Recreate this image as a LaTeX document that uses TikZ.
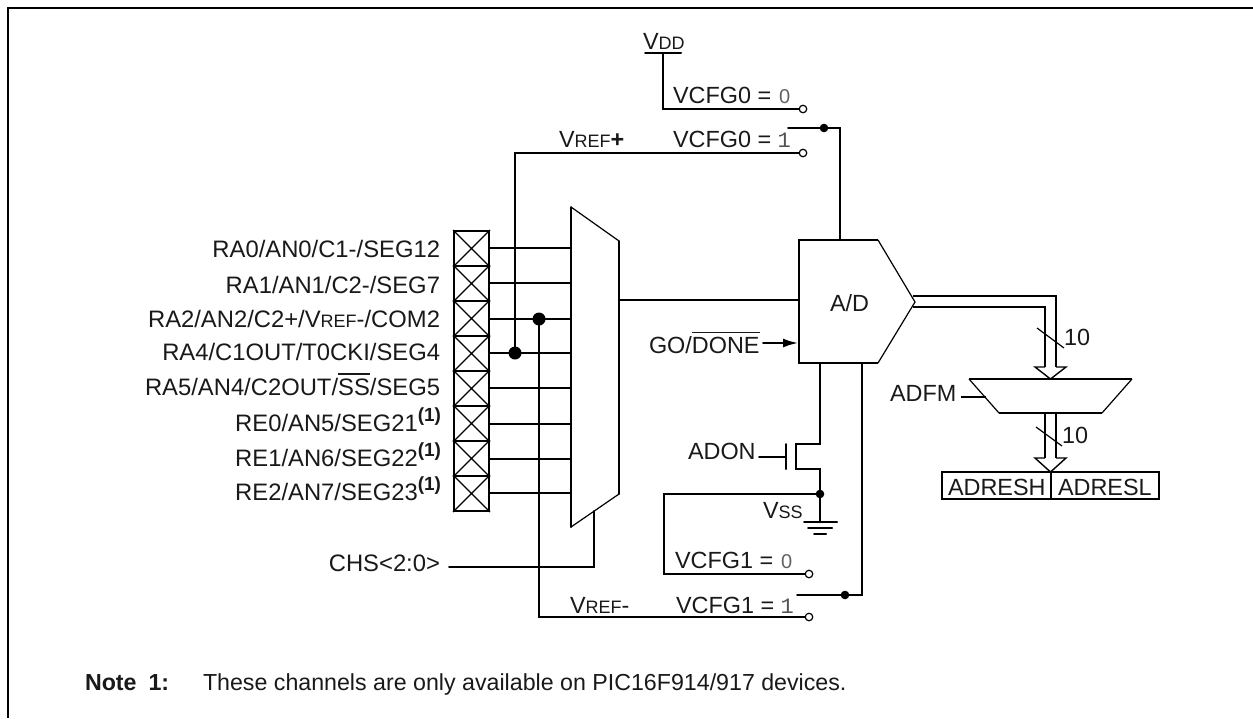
\documentclass[tikz,border=0pt]{standalone}
\usepackage{fontspec}
\setmainfont{Liberation Sans}
\newfontfamily\digitfont{Liberation Mono}
\usetikzlibrary{arrows.meta,calc}
\newcommand\smc[1]{{\fontsize{18}{18}\selectfont #1}}
\newcommand\ovl[1]{\leavevmode\vbox{\hrule height 1.5pt\kern 3.4pt\hbox{#1}}}
\newcommand\supone{\raisebox{9.5pt}{\fontsize{19}{19}\selectfont\bfseries (1)}}
\newcommand\dg[1]{{\digitfont\color{black!68}\fontsize{22}{22}\selectfont #1}}
\newcommand\dgz{{\color{black!62}\fontsize{20}{20}\selectfont\hspace{1.5pt}0}}
\tikzset{
  wire/.style={line width=2pt,line cap=round},
  thinline/.style={line width=1.2pt},
  lab/.style={inner sep=0,outer sep=0,font=\fontsize{23.4}{24}\selectfont,text=black!90},
  labw/.style={lab,anchor=base west},
  labe/.style={lab,anchor=base east},
  padlab/.style={labe,font=\fontsize{23.8}{24}\selectfont},
  dot/.style={circle,fill=black,inner sep=0,minimum size=8.6pt},
  bigdot/.style={circle,fill=black,inner sep=0,minimum size=13pt},
  contact/.style={circle,draw=black,fill=white,line width=1.2pt,inner sep=0,minimum size=7.5pt},
  pad/.style={rectangle,draw=black,line width=2pt,inner sep=0,minimum width=35pt,minimum height=35pt},
  busline/.style={line width=2pt,line join=miter}
}
\begin{document}
\begin{tikzpicture}[x=1pt,y=-1pt]
\useasboundingbox (0,0) rectangle (1253,718);
\coordinate (frameTR) at (1253,8);
\coordinate (frameTL) at (8,8);
\coordinate (frameBL) at (8,718);
\draw[line width=2pt] (frameTR) -- (frameTL) -- (frameBL);

% pads
\foreach \i/\yy/\pin in {1/248.5/248,2/283.5/283,3/318.5/319,4/353.5/353,5/388.5/388,6/423.5/424,7/458.5/459,8/493.5/493}{
  \node[pad] (p\i) at (471.5,\yy) {};
  \draw[thinline] (p\i.north west) -- (p\i.south east) (p\i.north east) -- (p\i.south west);
  \coordinate (m\i) at (571,\pin);
  \draw[wire] (p\i.east |- m\i) -- (m\i);
}
% pad labels
\node[padlab] (t1) at (440,257) {RA0/AN0/C1-/SEG12};
\node[padlab] (t2) at (440,293) {RA1/AN1/C2-/SEG7};
\node[padlab] (t3) at (440,327) {RA2/AN2/C2+/V\smc{REF}-/COM2};
\node[padlab] (t4) at (440,360) {RA4/C1OUT/T0CKI/SEG4};
\node[padlab] (t5) at (440,395) {RA5/AN4/C2OUT/\ovl{SS}/SEG5};
\node[padlab] (t6) at (441,431) {RE0/AN5/SEG21\supone};
\node[padlab] (t7) at (441,466) {RE1/AN6/SEG22\supone};
\node[padlab] (t8) at (441,500) {RE2/AN7/SEG23\supone};

% analog mux
\coordinate (muxTL) at (571,207);
\coordinate (muxTR) at (619,241);
\coordinate (muxBR) at (619,494);
\coordinate (muxBL) at (571,527);
\coordinate (muxOut) at (619,300);
\coordinate (muxSel) at (594,511);
\draw[wire] (muxTL) -- (muxBL);
\draw[wire] (muxTR) -- (muxBR);
\draw[thinline] (muxTL) -- (muxTR) (muxBL) -- (muxBR);

% A/D
\coordinate (adTL) at (799,240);
\coordinate (adTR) at (878,240);
\coordinate (adTip) at (915,302);
\coordinate (adBR) at (878,363);
\coordinate (adBL) at (799,363);
\draw[wire,line cap=butt] (adTR) -- (adTL) -- (adBL) -- (adBR);
\draw[thinline] (adTR) -- (adTip) -- (adBR);
\node[labw] (adtext) at (830,311) {A/D};
\draw[wire] (muxOut) -- (muxOut -| adTL);
\node[labw] (go) at (649,353) {GO/\ovl{DONE}};
\coordinate (goS) at (763,343);
\coordinate (goE) at (798,343);
\draw[wire,-{Latex[length=15pt,width=9pt]}] (goS) -- (goE);

% Vref+ selection
\node[labw] (vdd) at (643,49) {V\smc{DD}};
\coordinate (vddL) at (645,53);
\coordinate (vddR) at (681,53);
\coordinate (vddM) at (663,53);
\coordinate (cfgA) at (663,109);
\node[contact] (c00) at (803,109) {};
\node[contact] (c01) at (803,153) {};
\draw[wire] (vddL) -- (vddR);
\draw[wire] (vddM) -- (cfgA) -- (c00.west);
\node[labw] (t00) at (673,103) {VCFG0 = \dgz};
\node[labw] (t01) at (673,147) {VCFG0 = \dg{1}};
\node[labw] (tvp) at (559,147) {V\smc{REF}\textbf{+}};
\coordinate (vpL) at (515,153);
\node[bigdot] (d4) at (515,353) {};
\draw[wire] (c01.west) -- (vpL) -- (d4.center);
\coordinate (w0) at (788,128);
\coordinate (w0R) at (840,128);
\coordinate (adIn) at (840,240);
\node[dot] (d0) at (824,128) {};
\draw[wire] (w0) -- (w0R) -- (adIn);

% Vref- selection
\node[bigdot] (d3) at (539,319) {};
\node[contact] (c11) at (809,617) {};
\coordinate (vmB) at (539,617);
\draw[wire] (d3.center) -- (vmB) -- (c11.west);
\node[labw] (tvm) at (570,613) {V\smc{REF}-};
\node[labw] (t11) at (676,613) {VCFG1 = \dg{1}};
\coordinate (a1) at (862,363);
\coordinate (a2) at (862,595);
\coordinate (w1) at (797,595);
\node[dot] (d1) at (845,595) {};
\draw[wire] (a1) -- (a2) -- (w1);

% transistor and ground
\coordinate (b0) at (820,363);
\coordinate (b1) at (820,444);
\coordinate (b2) at (796,444);
\coordinate (b3) at (796,469);
\coordinate (b4) at (820,469);
\coordinate (b5) at (820,522);
\draw[wire] (b0) -- (b1) -- (b2) -- (b3) -- (b4) -- (b5);
\coordinate (gT) at (786,444);
\coordinate (gB) at (786,469);
\coordinate (gM) at (786,457);
\coordinate (gL) at (759,457);
\draw[wire] (gT) -- (gB) (gL) -- (gM);
\node[labw] (adon) at (688,459) {ADON};
\node[dot] (d2) at (820,494) {};
\node[labw] (vss) at (763,518) {V\smc{SS}};
\coordinate (g1L) at (804,522); \coordinate (g1R) at (837,522);
\coordinate (g2L) at (808,528); \coordinate (g2R) at (832,528);
\coordinate (g3L) at (814,534); \coordinate (g3R) at (826,534);
\draw[wire] (g1L) -- (g1R) (g2L) -- (g2R) (g3L) -- (g3R);
\coordinate (e1) at (664,494);
\coordinate (e2) at (664,574);
\node[contact] (c10) at (809,574) {};
\draw[wire] (d2.center) -- (e1) -- (e2) -- (c10.west);
\node[labw] (t10) at (675,568) {VCFG1 = \dgz};

% CHS
\node[padlab] (chs) at (440,571) {CHS<2:0>};
\coordinate (chsL) at (449,567);
\coordinate (chsC) at (594,567);
\draw[wire] (chsL) -- (chsC) -- (muxSel);

% digital output bus
\coordinate (tipA) at (913,296);
\coordinate (tipB) at (913,307);
\draw[busline] (tipA) -- (1056,296) -- (1056,367);
\draw[busline] (tipB) -- (1045,307) -- (1045,367);
\draw[busline,line width=1.4pt] (1045,367) -- (1035,367) -- (1050.5,379) -- (1066,367) -- (1056,367);
\coordinate (s1a) at (1037,328); \coordinate (s1b) at (1064,348);
\draw[thinline] (s1a) -- (s1b);
\node[labw] (n1) at (1064,345) {10};

% format mux
\coordinate (fTL) at (969,379);
\coordinate (fTR) at (1132,379);
\coordinate (fBR) at (1102,413);
\coordinate (fBL) at (999,413);
\draw[wire,line cap=butt] (fTL) -- (fTR);
\draw[wire,line cap=butt] (fBL) -- (fBR);
\draw[thinline] (fTL) -- (fBL) (fTR) -- (fBR);
\node[labw] (adfm) at (890,401) {ADFM};
\coordinate (fmA) at (961,397);
\coordinate (fmB) at (986,397);
\draw[wire,line cap=butt] (fmA) -- (fmB);

\draw[busline] (1045,413) -- (1045,458);
\draw[busline] (1056,413) -- (1056,458);
\draw[busline,line width=1.4pt] (1045,458) -- (1035,458) -- (1050.5,472) -- (1066,458) -- (1056,458);
\coordinate (s2a) at (1036,427); \coordinate (s2b) at (1062,446);
\draw[thinline] (s2a) -- (s2b);
\node[labw] (n2) at (1062,443) {10};

% result registers
\draw[line width=2pt] (942,472) rectangle (1159,499);
\coordinate (rT) at (1051,472); \coordinate (rB) at (1051,499);
\draw[line width=2pt] (rT) -- (rB);
\node[labw] (rh) at (948,495) {ADRESH};
\node[labw] (rl) at (1058,495) {ADRESL};

% note
\node[labw,font=\fontsize{23.2}{24}\selectfont] (note) at (85,690) {\bfseries Note\hspace{12pt}1:};
\node[labw,font=\fontsize{23.2}{24}\selectfont] (notet) at (203,690) {These channels are only available on PIC16F914/917 devices.};
\end{tikzpicture}
\end{document}
